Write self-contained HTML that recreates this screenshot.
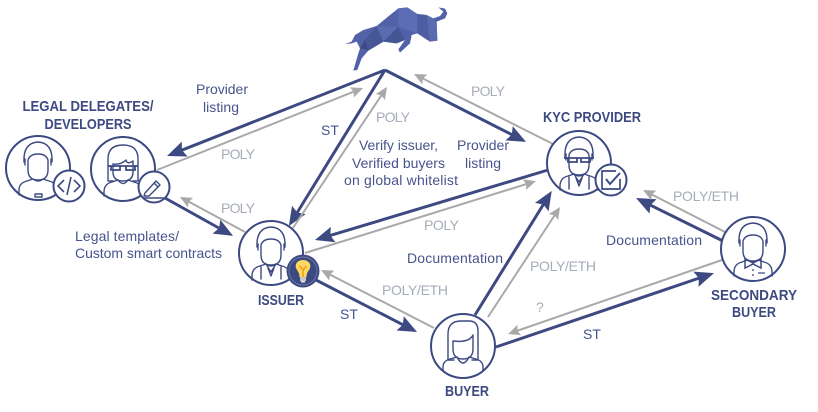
<!DOCTYPE html>
<html><head><meta charset="utf-8"><style>
html,body{margin:0;padding:0;background:#fff}
svg{display:block}
text{font-family:"Liberation Sans",sans-serif;font-size:14px;fill:#46548c}
.g{fill:#a6adb8}
.h{font-weight:bold;font-size:15px;fill:#3d4a82}
.b{stroke:#3d4a82;stroke-width:3;fill:none}
.y{stroke:#a9a9a9;stroke-width:2;fill:none}
.p{fill:none;stroke:#3d4a82;stroke-width:1.4;stroke-linecap:round;stroke-linejoin:round}
.c{fill:#fff;stroke:#3d4a82;stroke-width:2}
</style></head><body>
<svg width="818" height="412" viewBox="0 0 818 412" xmlns="http://www.w3.org/2000/svg">
<defs>
<marker id="ab" markerUnits="userSpaceOnUse" markerWidth="20" markerHeight="17" refX="13" refY="8" orient="auto"><path d="M0 0L19 8L0 16L3 8z" fill="#3d4a82"/></marker>
<marker id="ag" markerUnits="userSpaceOnUse" markerWidth="13" markerHeight="12" refX="9" refY="6" orient="auto"><path d="M0 .5L12 6L0 11.500L2 6z" fill="#a9a9a9"/></marker>
<g id="body"><path class="p" d="M-19 27V23Q-19 15-11 13L-5 11Q0 15 5 11L11 13Q19 15 19 23V27"/></g>
<g id="head"><path class="p" d="M-10-8V2Q-10 12 0 12Q10 12 10 2V-8Q8-14 0-14Q-8-14-10-8z"/><path class="p" d="M-13-3V-9M13-3V-9M-14-6Q-15-25 0-26Q15-25 14-6"/></g>
<g id="man"><use href="#head"/><use href="#body"/><path class="p" d="M-5 11L0 19L5 11M-10 14V26M10 14V26M-3 15L0 23L3 15"/></g>
</defs>

<!-- bull -->
<g transform="translate(330 0) scale(.3333)">
<path fill="#5162a9" d="M45 132L65 125L75 105L100 90L140 78L180 45L205 25L232 22L262 42L290 45L310 55L330 48L340 35L325 22L345 26L352 40L345 55L320 65L322 122L300 125L262 100L245 105L240 130L210 158L205 148L225 120L200 130L160 125L135 140L115 152L95 175L82 210L70 212L85 160L90 145L80 125L65 130z"/>
<path fill="#465697" d="M140 78L160 125L135 140L115 152L105 120z"/>
<path fill="#5a6bb2" d="M140 78L205 80L160 125z"/>
<path fill="#465694" d="M205 80L225 120L200 130L160 125z"/>
<path fill="#5c6db5" d="M205 25L232 22L262 42L262 100L205 80z"/>
<path fill="#4e5ea3" d="M262 42L290 45L300 125L262 100z"/>
<path fill="#5a6bb0" d="M290 45L320 65L322 122L300 125z"/>
<path fill="#3d4a85" d="M105 120L115 152L90 145z"/>
</g>

<!-- blue connectors -->
<path class="b" d="M385 70L172.6 153.800" marker-end="url(#ab)"/>
<path class="b" d="M385 70L292 221" marker-end="url(#ab)"/>
<path class="b" d="M385 70L520.7 139.2" marker-end="url(#ab)"/>
<path class="b" d="M548 170L320.7 238.3" marker-end="url(#ab)"/>
<path class="b" d="M165 198L227.8 233" marker-end="url(#ab)"/>
<path class="b" d="M316 280L411.7 329.3" marker-end="url(#ab)"/>
<path class="b" d="M475 315L548.6 196" marker-end="url(#ab)"/>
<path class="b" d="M496 347L708.3 275" marker-end="url(#ab)"/>
<path class="b" d="M723 241L641.4 200.7" marker-end="url(#ab)"/>

<!-- gray connectors -->
<path class="y" d="M157 170L360.2 89.1" marker-end="url(#ag)"/>
<path class="y" d="M293 228L385.3 89.5" marker-end="url(#ag)"/>
<path class="y" d="M553 144L416.7 75.4" marker-end="url(#ag)"/>
<path class="y" d="M305 253L533 182" marker-end="url(#ag)"/>
<path class="y" d="M245 232L182.6 198.4" marker-end="url(#ag)"/>
<path class="y" d="M434 328L323.7 271.4" marker-end="url(#ag)"/>
<path class="y" d="M488 317L558.4 209.5" marker-end="url(#ag)"/>
<path class="y" d="M722 260L510.8 333" marker-end="url(#ag)"/>
<path class="y" d="M725 232L645.7 191.4" marker-end="url(#ag)"/>

<!-- developer -->
<g transform="translate(38 168)"><circle class="c" r="32"/><use href="#head"/><path class="p" d="M-19 27V22Q-19 15-11 13L-5 11Q0 15 5 11L11 13Q19 15 19 22V27M-3 26H4V29H-3z"/></g>
<g transform="translate(69 186)"><circle class="c" r="15.500"/><path d="M-5-6L-11 0L-5 6M5-6L11 0L5 6M2-9L-2 9" fill="none" stroke="#3d4a82" stroke-width="1.6"/></g>

<!-- legal delegate -->
<g transform="translate(123 169)"><circle class="c" r="32"/>
<path class="p" d="M-15 12V-10Q-15-24 0-24Q15-24 15-10V12H10M-15 12H-10"/>
<path class="p" d="M-10-5V3Q-10 12 0 12Q10 12 10 3V-8Q4-4 3-9Q-2-4-10-5z"/>
<path fill="none" stroke="#3d4a82" stroke-width="1.8" d="M-15-3H15M-12-3V1H-3V-3M3-3V1H12V-3"/>
<path class="p" d="M-19 27V23Q-19 15-11 13L-5 11Q0 18 5 11L11 13Q19 15 19 23V27"/></g>
<g transform="translate(154 187)"><circle class="c" r="15.500"/><path class="p" d="M-9 6L2-6L6-2L-5 9L-10 9zM0-4L4 0"/><path d="M-10 11H10" stroke="#3d4a82" stroke-width="1.5"/></g>

<!-- issuer -->
<g transform="translate(271 253)"><circle class="c" r="32"/><use href="#man"/></g>
<g transform="translate(303 271)"><circle r="16.500" fill="#3d4a82"/><circle r="14" fill="none" stroke="#7c88b5" stroke-width=".7"/>
<path fill="#fcd860" d="M-3.500 6Q-3.500 2-6 -1Q-8-4-7-7Q-5-11 0-11Q5-11 7-7Q8-4 6-1Q3.500 2 3.500 6z"/>
<path d="M0 6V-1M-3.500-5L0-1L3.500-5" fill="none" stroke="#f2a01e" stroke-width="1.6"/>
<rect x="-3" y="6" width="6" height="4" fill="#c9c9c9"/><rect x="-2" y="10" width="4" height="1.500" fill="#e6e6e6"/></g>

<!-- buyer -->
<g transform="translate(463 346)"><circle class="c" r="32"/>
<path class="p" d="M-15 14V-12Q-15-25-2-25H6Q15-25 15-15V14H9M-15 14H-9"/>
<path class="p" d="M-10-5V3Q-10 13 0 13Q10 13 10 3V-11Q6-3-10-5z"/>
<path class="p" d="M-20 25V21Q-20 15-13 13L-6 11Q0 23 6 11L13 13Q20 15 20 21V25"/></g>

<!-- kyc -->
<g transform="translate(579 163)"><circle class="c" r="32"/><use href="#man"/>
<path fill="none" stroke="#3d4a82" stroke-width="1.800" d="M-15-5H15M-11-5V-1H-2V-5M2-5V-1H11V-5"/></g>
<g transform="translate(611 180)"><circle class="c" r="15.500"/>
<path d="M9-1V9H-9V-9H5" fill="none" stroke="#3d4a82" stroke-width="1.700"/>
<path d="M-5-1L-1 4L9-7" fill="none" stroke="#3d4a82" stroke-width="2"/></g>

<!-- secondary -->
<g transform="translate(753 249)"><circle class="c" r="32"/><use href="#head"/><use href="#body"/>
<path d="M-8 10L0 14L8 10V19L0 15L-8 19z" fill="none" stroke="#3d4a82" stroke-width="1.500"/>
<path d="M0 20V22M0 25V27M5 24H12" stroke="#3d4a82" stroke-width="1.300"/></g>

<!-- titles -->
<text class="h" x="88" y="111" text-anchor="middle" textLength="131" lengthAdjust="spacingAndGlyphs">LEGAL DELEGATES/</text>
<text class="h" x="88" y="129" text-anchor="middle" textLength="87" lengthAdjust="spacingAndGlyphs">DEVELOPERS</text>
<text class="h" x="592" y="122" text-anchor="middle" textLength="98" lengthAdjust="spacingAndGlyphs">KYC PROVIDER</text>
<text class="h" x="281" y="305" text-anchor="middle" textLength="46" lengthAdjust="spacingAndGlyphs">ISSUER</text>
<text class="h" x="467" y="396" text-anchor="middle" textLength="44" lengthAdjust="spacingAndGlyphs">BUYER</text>
<text class="h" x="754" y="300" text-anchor="middle" textLength="86" lengthAdjust="spacingAndGlyphs">SECONDARY</text>
<text class="h" x="754" y="317" text-anchor="middle" textLength="44" lengthAdjust="spacingAndGlyphs">BUYER</text>

<!-- blue labels -->
<text x="196" y="94" textLength="52">Provider</text>
<text x="203" y="112" textLength="36">listing</text>
<text x="321" y="135">ST</text>
<text x="359" y="150" textLength="79">Verify issuer,</text>
<text x="352" y="168" textLength="93">Verified buyers</text>
<text x="344" y="185" textLength="114">on global whitelist</text>
<text x="457" y="150" textLength="52">Provider</text>
<text x="465" y="168" textLength="36">listing</text>
<text x="75" y="241" textLength="104">Legal templates/</text>
<text x="75" y="258" textLength="147">Custom smart contracts</text>
<text x="407" y="263" textLength="96">Documentation</text>
<text x="340" y="319">ST</text>
<text x="583" y="339">ST</text>
<text x="606" y="245" textLength="96">Documentation</text>

<!-- gray labels -->
<text class="g" x="221" y="159" textLength="34">POLY</text>
<text class="g" x="221" y="213" textLength="34">POLY</text>
<text class="g" x="376" y="122" textLength="34">POLY</text>
<text class="g" x="471" y="96" textLength="34">POLY</text>
<text class="g" x="424" y="230" textLength="35">POLY</text>
<text class="g" x="382" y="295" textLength="66">POLY/ETH</text>
<text class="g" x="530" y="271" textLength="66">POLY/ETH</text>
<text class="g" x="536" y="312">?</text>
<text class="g" x="673" y="201" textLength="66">POLY/ETH</text>
</svg>
</body></html>
